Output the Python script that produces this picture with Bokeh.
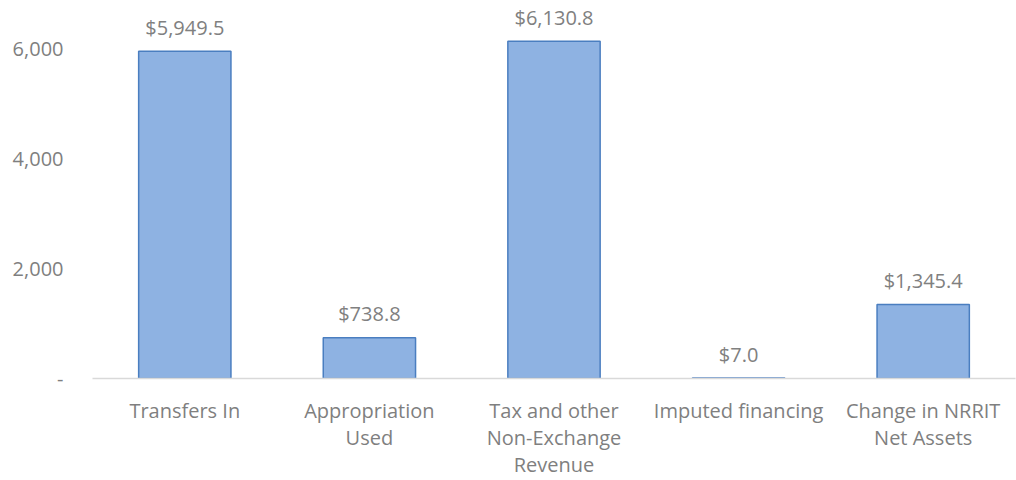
from bokeh.plotting import figure
from bokeh.models import Range1d, FixedTicker, NumeralTickFormatter, ColumnDataSource
from bokeh.core.properties import value
from bokeh.embed import file_html
from bokeh.resources import INLINE

categories = ["Transfers In", "Appropriation\nUsed", "Tax and other\nNon-Exchange\nRevenue",
              "Imputed financing", "Change in NRRIT\nNet Assets"]
values = [5949.5, 738.8, 6130.8, 7.0, 1345.4]
value_labels = ["$5,949.5", "$738.8", "$6,130.8", "$7.0", "$1,345.4"]
y_ticks = [0, 2000, 4000, 6000]

xs = list(range(1, len(categories) + 1))
src = ColumnDataSource(dict(x=xs, top=values, lab=value_labels))

p = figure(width=1016, height=480, output_backend="svg", toolbar_location=None,
           x_range=Range1d(0.5, len(categories) + 0.5), y_range=Range1d(0, 6873),
           min_border_left=92, min_border_right=1, min_border_top=0, min_border_bottom=102)
p.outline_line_color = None
p.background_fill_color = "white"
p.border_fill_color = "white"
p.xgrid.visible = False
p.ygrid.visible = False

p.vbar(x="x", top="top", bottom=0, width=0.5, source=src,
       fill_color="#8EB2E2", line_color="#4A7EC0", line_width=1.5)

p.text(x="x", y="top", text="lab", source=src, text_align="center",
       text_baseline="alphabetic", y_offset=-24, text_font=value("Open Sans"),
       text_font_size="20px", text_color="#808080")

font = "Open Sans"
grey = "#7f7f7f"

p.xaxis.ticker = FixedTicker(ticks=xs)
p.xaxis.major_label_overrides = {x: c for x, c in zip(xs, categories)}
p.xaxis.axis_line_color = "#d9d9d9"
p.xaxis.axis_line_width = 1.5
p.xaxis.major_tick_line_color = None
p.xaxis.minor_tick_line_color = None
p.xaxis.major_label_standoff = 12
p.xaxis.major_label_text_font = font
p.xaxis.major_label_text_font_size = "20px"
p.xaxis.major_label_text_color = grey
p.xaxis.major_label_text_line_height = 1.0

p.yaxis.ticker = FixedTicker(ticks=y_ticks)
p.yaxis.formatter = NumeralTickFormatter(format="0,0")
p.yaxis.major_label_overrides = {0: "-"}
p.yaxis.axis_line_color = None
p.yaxis.major_tick_line_color = None
p.yaxis.minor_tick_line_color = None
p.yaxis.major_label_standoff = 23
p.yaxis.major_label_text_font = font
p.yaxis.major_label_text_font_size = "20px"
p.yaxis.major_label_text_color = grey

open("out.html", "w").write(file_html(p, INLINE))
